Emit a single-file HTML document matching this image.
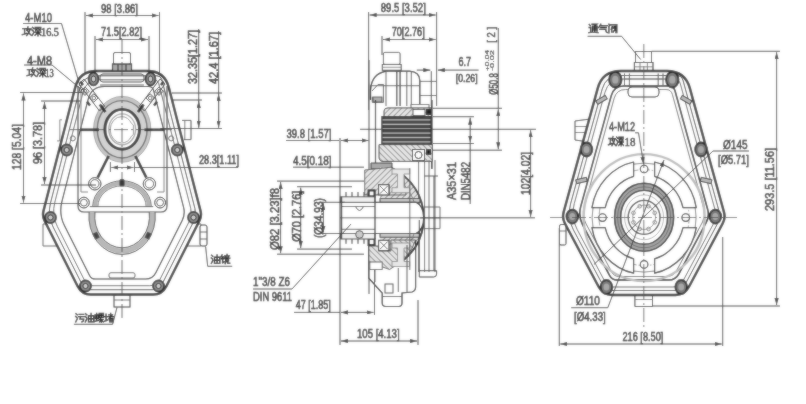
<!DOCTYPE html>
<html><head><meta charset="utf-8">
<style>
html,body{margin:0;padding:0;background:#fff;}
svg{display:block;}
text{font-family:"Liberation Sans",sans-serif;fill:#222;font-weight:normal;stroke:#222;stroke-width:0.45px;}
</style></head><body>
<svg width="806" height="404" viewBox="0 0 806 404">
<defs>
<marker id="ar" viewBox="0 0 10 6" refX="10" refY="3" markerWidth="7" markerHeight="4.2" orient="auto-start-reverse" markerUnits="userSpaceOnUse"><path d="M0,0 L10,3 L0,6 z" fill="#333"/></marker>
<filter id="soft" filterUnits="userSpaceOnUse" x="0" y="0" width="806" height="404"><feGaussianBlur in="SourceGraphic" stdDeviation="0.8" result="b"/><feComposite in="b" in2="SourceGraphic" operator="arithmetic" k1="0" k2="0.5" k3="0.5" k4="0"/></filter>
</defs>
<g filter="url(#soft)">
<rect width="806" height="404" fill="#fff"/>

<g id="leftdraw" fill="none" stroke="#2b2b2b">
<path d="M56,224 L43,224 L43,246 L62,246" stroke="#4e4e4e" stroke-width="0.9"/>
<path d="M188,224 L201,224 L201,246 L182,246" stroke="#4e4e4e" stroke-width="0.9"/>
<rect x="200" y="225" width="7" height="21" rx="2" fill="#fff" stroke="#2c2c2c" stroke-width="1"/>
<line x1="200" y1="232" x2="207" y2="232" stroke="#3d3d3d" stroke-width="0.8"/><line x1="200" y1="239" x2="207" y2="239" stroke="#3d3d3d" stroke-width="0.8"/>
<rect x="114" y="295" width="16" height="12" fill="#fff" stroke="#2c2c2c" stroke-width="1"/>
<line x1="114" y1="300" x2="130" y2="300" stroke="#4e4e4e" stroke-width="0.8"/>
<path d="M96.4,71 L147.6,71 Q164.6,71 168.82,87.47 L200.56,211.16 Q201.8,216 199.55,220.46 L166.25,286.46 Q162.2,294.5 153.2,294.5 L90.8,294.5 Q81.8,294.5 77.75,286.46 L44.45,220.46 Q42.2,216 43.44,211.16 L75.18,87.47 Q79.4,71 96.4,71 Z" stroke-width="2.4" fill="#fff"/>
<path d="M79.89,88.39 L50.53,202.85 Q47.3,215.45 53.15,227.05 L82.95,286.13 Q84.75,289.7 88.75,289.7 L152.25,289.7 Q159.25,289.7 162.4,283.45 L193.55,221.7 Q196.7,215.45 194.96,208.67 L161.87,79.67 Q160.88,75.8 156.88,75.8 L96.12,75.8 Q83.12,75.8 79.89,88.39 Z" stroke-width="1.0" stroke="#3d3d3d"/>
<path d="M83,92.39 L54.78,202.39 Q51.55,214.99 57.4,226.59 L85.42,282.13 Q87.22,285.7 91.22,285.7 L149.78,285.7 Q156.78,285.7 159.94,279.45 L189.3,221.24 Q192.45,214.99 190.72,208.21 L158.77,83.67 Q157.77,79.8 153.77,79.8 L99.23,79.8 Q86.23,79.8 83,92.39 Z" stroke-width="0.9" stroke="#4e4e4e"/>
<path d="M88.19,99.09 L61.89,201.62 Q58.66,214.21 64.52,225.82 L89.54,275.43 Q91.34,279 95.34,279 L145.66,279 Q152.66,279 155.81,272.75 L182.19,220.46 Q185.34,214.21 183.6,207.43 L153.57,90.37 Q152.57,86.5 148.57,86.5 L104.43,86.5 Q91.43,86.5 88.19,99.09 Z" stroke-width="1.1" stroke="#2c2c2c"/>
<path d="M182,120.4 L191,120.4 L191,139.6 L184,139.6" stroke="#3d3d3d" stroke-width="1"/>
<line x1="184.8" y1="120.4" x2="184.8" y2="139.6" stroke="#5f5f5f" stroke-width="0.9"/>
<path d="M62,119.8 L59.8,119.8 L59.8,140.9 L57,140.9" stroke="#707070" stroke-width="0.9"/>
<circle cx="171.2" cy="138.4" r="2.5" stroke="#4e4e4e" stroke-width="0.9"/>
<circle cx="72.8" cy="138.4" r="2.5" stroke="#4e4e4e" stroke-width="0.9"/>
<rect x="113.5" y="52.5" width="17" height="12" rx="1.5" fill="#fff" stroke="#2c2c2c" stroke-width="1"/>
<rect x="112.5" y="64" width="19" height="7" fill="#aaa" stroke="#222" stroke-width="1.2"/>
<line x1="118" y1="64" x2="118" y2="71" stroke="#222"/><line x1="126" y1="64" x2="126" y2="71" stroke="#222"/>
<rect x="100" y="74" width="44" height="8" rx="3" stroke="#3d3d3d" stroke-width="0.9"/>
<line x1="100" y1="85" x2="144" y2="85" stroke="#4e4e4e" stroke-width="0.9"/>
<path d="M78,86 L78,206 Q78,212 84,212 L161,212 Q167,212 167,206 L167,86" stroke="#3d3d3d" stroke-width="1.1"/>
<path d="M81,90 L81,192 L88,192 M164,90 L164,192 L157,192" stroke="#707070" stroke-width="0.9"/>
<ellipse cx="122.2" cy="129.3" rx="26.8" ry="30.82" stroke="#c6c6c6" stroke-width="3.6" fill="none"/>
<ellipse cx="122.2" cy="129.3" rx="28.6" ry="32.89" stroke="#9a9a9a" stroke-width="0.9" fill="none"/>
<ellipse cx="122.2" cy="129.3" rx="21.6" ry="24.84" stroke="#d2d2d2" stroke-width="6.4" fill="none"/>
<ellipse cx="122.2" cy="129.3" rx="24.9" ry="28.63" stroke="#6d6d6d" stroke-width="1.4" fill="none"/>
<ellipse cx="122.2" cy="129.3" rx="17.3" ry="19.89" stroke="#303030" stroke-width="2.9" fill="#fff"/>
<ellipse cx="122.2" cy="129.3" rx="13.4" ry="15.41" stroke="#aaa" stroke-width="1.4" fill="none"/>
<path d="M110.2,129.8 A11.5,13.2 0 0 1 121.7,116.6 A11.5,13.2 0 0 1 131.5,123.5 L133.4,125 L133.4,134.6 L131.5,136.1 A11.5,13.2 0 0 1 121.7,143 A11.5,13.2 0 0 1 110.2,129.8" stroke="#9a9a9a" stroke-width="1"/>
<g stroke="#1b1b1b" stroke-width="2.6">
<line x1="80" y1="129.8" x2="99" y2="129.8"/><line x1="144.5" y1="129.8" x2="164.5" y2="129.8"/>
<line x1="99.8" y1="104.5" x2="105.4" y2="112"/><line x1="143.6" y1="104.5" x2="138" y2="112"/>
<line x1="108.6" y1="156" x2="97.7" y2="177.5"/><line x1="135.4" y1="156" x2="146.3" y2="177.5"/>
</g>
<circle cx="94.8" cy="183.8" r="6.2" fill="none" stroke="#2c2c2c" stroke-width="1"/>
<circle cx="94.8" cy="183.8" r="4.2" fill="none" stroke="#3d3d3d" stroke-width="0.8"/>
<circle cx="149.4" cy="183.8" r="6.2" fill="none" stroke="#2c2c2c" stroke-width="1"/>
<circle cx="149.4" cy="183.8" r="4.2" fill="none" stroke="#3d3d3d" stroke-width="0.8"/>
<circle cx="83.9" cy="202.6" r="5.4" fill="none" stroke="#2c2c2c" stroke-width="1"/>
<circle cx="83.9" cy="202.6" r="3.4" fill="none" stroke="#3d3d3d" stroke-width="0.8"/>
<circle cx="160.1" cy="202.6" r="5.4" fill="none" stroke="#2c2c2c" stroke-width="1"/>
<circle cx="160.1" cy="202.6" r="3.4" fill="none" stroke="#3d3d3d" stroke-width="0.8"/>
<path d="M79,84 L84,79 L104.5,106 L99.5,111 Z" stroke="#3d3d3d" stroke-width="1" fill="none"/>
<rect x="82" y="88.2" width="6" height="6" stroke="#3d3d3d" stroke-width="0.9" transform="rotate(45 85 91.2)"/>
<circle cx="85" cy="91.2" r="1.8" stroke="#4e4e4e" stroke-width="0.8"/>
<rect x="90.8" y="95" width="6" height="6" stroke="#3d3d3d" stroke-width="0.9" transform="rotate(45 93.8 98)"/>
<circle cx="93.8" cy="98" r="1.8" stroke="#4e4e4e" stroke-width="0.8"/>
<line x1="80.5" y1="81.5" x2="83" y2="85" stroke="#1b1b1b" stroke-width="2.2"/>
<line x1="87" y1="101.5" x2="90" y2="105.5" stroke="#1b1b1b" stroke-width="2.2"/>
<path d="M165,84 L160,79 L139.5,106 L144.5,111 Z" stroke="#3d3d3d" stroke-width="1" fill="none"/>
<rect x="156" y="88.2" width="6" height="6" stroke="#3d3d3d" stroke-width="0.9" transform="rotate(45 159 91.2)"/>
<circle cx="159" cy="91.2" r="1.8" stroke="#4e4e4e" stroke-width="0.8"/>
<rect x="147.2" y="95" width="6" height="6" stroke="#3d3d3d" stroke-width="0.9" transform="rotate(45 150.2 98)"/>
<circle cx="150.2" cy="98" r="1.8" stroke="#4e4e4e" stroke-width="0.8"/>
<line x1="163.5" y1="81.5" x2="161" y2="85" stroke="#1b1b1b" stroke-width="2.2"/>
<line x1="157" y1="101.5" x2="154" y2="105.5" stroke="#1b1b1b" stroke-width="2.2"/>
<path d="M92.13,212 A30.2,34.73 0 1 0 152.07,212" stroke="#b8b8b8" stroke-width="5.2"/>
<path d="M89.11,212 A33.2,38.18 0 1 0 155.09,212" stroke="#4e4e4e" stroke-width="1"/>
<path d="M94.96,212 A27.4,31.509999999999994 0 1 0 149.24,212" stroke="#4e4e4e" stroke-width="1"/>
<rect x="93.5" y="232.5" width="5" height="6.5" fill="#444" stroke="none" transform="rotate(-25 96 235.6)"/>
<rect x="145.9" y="232.5" width="5" height="6.5" fill="#444" stroke="none" transform="rotate(25 148.4 235.6)"/>
<path d="M92.8,206.6 A29.2,25.8 0 0 1 151.2,206.6" stroke="#4e4e4e" stroke-width="1"/>
<path d="M97.8,206.6 A24.2,20.8 0 0 1 146.2,206.6" stroke="#5f5f5f" stroke-width="0.9"/>
<path d="M95.3,206.6 A26.7,23.3 0 0 1 148.7,206.6" stroke="#b5b5b5" stroke-width="4"/>
<rect x="119.5" y="179" width="5" height="7.5" rx="1.5" fill="#333" stroke="none"/>
<line x1="89.8" y1="206.6" x2="153.2" y2="206.6" stroke="#3d3d3d" stroke-width="1"/>
<rect x="109" y="272.7" width="26" height="5.3" rx="2" stroke="#4e4e4e" stroke-width="0.9"/>
<ellipse cx="66.7" cy="150" rx="5.6" ry="5.6" fill="#8a8a8a" stroke="#2e2e2e" stroke-width="1.6"/>
<ellipse cx="66.7" cy="150" rx="2.52" ry="2.52" fill="#ccc" stroke="#1b1b1b" stroke-width="0.8"/>
<ellipse cx="177.3" cy="150" rx="5.6" ry="5.6" fill="#8a8a8a" stroke="#2e2e2e" stroke-width="1.6"/>
<ellipse cx="177.3" cy="150" rx="2.52" ry="2.52" fill="#ccc" stroke="#1b1b1b" stroke-width="0.8"/>
<ellipse cx="50.5" cy="217.5" rx="5.6" ry="5.6" fill="#8a8a8a" stroke="#2e2e2e" stroke-width="1.6"/>
<ellipse cx="50.5" cy="217.5" rx="2.52" ry="2.52" fill="#ccc" stroke="#1b1b1b" stroke-width="0.8"/>
<ellipse cx="193.5" cy="217.5" rx="5.6" ry="5.6" fill="#8a8a8a" stroke="#2e2e2e" stroke-width="1.6"/>
<ellipse cx="193.5" cy="217.5" rx="2.52" ry="2.52" fill="#ccc" stroke="#1b1b1b" stroke-width="0.8"/>
<ellipse cx="85.5" cy="286" rx="5.6" ry="5.6" fill="#8a8a8a" stroke="#2e2e2e" stroke-width="1.6"/>
<ellipse cx="85.5" cy="286" rx="2.52" ry="2.52" fill="#ccc" stroke="#1b1b1b" stroke-width="0.8"/>
<ellipse cx="158.5" cy="286" rx="5.6" ry="5.6" fill="#8a8a8a" stroke="#2e2e2e" stroke-width="1.6"/>
<ellipse cx="158.5" cy="286" rx="2.52" ry="2.52" fill="#ccc" stroke="#1b1b1b" stroke-width="0.8"/>
<ellipse cx="93.5" cy="79" rx="5" ry="6.5" fill="#8a8a8a" stroke="#2e2e2e" stroke-width="1.6"/>
<ellipse cx="93.5" cy="79" rx="2.25" ry="2.93" fill="#ccc" stroke="#1b1b1b" stroke-width="0.8"/>
<ellipse cx="150.5" cy="79" rx="5" ry="6.5" fill="#8a8a8a" stroke="#2e2e2e" stroke-width="1.6"/>
<ellipse cx="150.5" cy="79" rx="2.25" ry="2.93" fill="#ccc" stroke="#1b1b1b" stroke-width="0.8"/>
<line x1="122" y1="40" x2="122" y2="318" stroke="#3d3d3d" stroke-width="0.8" stroke-dasharray="14 3 2 3"/>
<line x1="70" y1="129.6" x2="175" y2="129.6" stroke="#3d3d3d" stroke-width="0.8" stroke-dasharray="14 3 2 3"/>
<path d="M23,23.5 L61.5,23.5 L80,86" stroke="#2c2c2c" stroke-width="0.9"/>
<path d="M24,65 L52,65 L82,90" stroke="#2c2c2c" stroke-width="0.9"/>
<path d="M73.9,324.3 L112.6,324.3 L117,307.4" stroke="#2c2c2c" stroke-width="0.9"/>
<path d="M205.6,246.5 L207.7,266.3 L232.2,266.3" stroke="#2c2c2c" stroke-width="0.9"/>
</g>
<defs>
<pattern id="h1" patternUnits="userSpaceOnUse" width="4" height="4" patternTransform="rotate(45)"><rect width="4" height="4" fill="#e6e6e6"/><line x1="0" y1="0" x2="0" y2="4" stroke="#525252" stroke-width="1.1"/></pattern>
<pattern id="h2" patternUnits="userSpaceOnUse" width="4" height="4" patternTransform="rotate(-45)"><rect width="4" height="4" fill="#e6e6e6"/><line x1="0" y1="0" x2="0" y2="4" stroke="#525252" stroke-width="1.1"/></pattern>
</defs>
<g id="middraw" fill="none" stroke="#1b1b1b" stroke-width="1">
<rect x="383.4" y="52.4" width="16.7" height="12" rx="1.5" fill="#fff" stroke="#4e4e4e" stroke-width="1"/>
<rect x="382.3" y="64.5" width="18.9" height="5.8" fill="#fff" stroke="#3d3d3d" stroke-width="1"/>
<line x1="382.3" y1="67.3" x2="401.2" y2="67.3" stroke="#707070" stroke-width="0.8"/>
<path d="M370.5,100 L370.5,90 Q371.5,74 386,71.2 L409.5,71.2 Q419.8,72 419.8,80.6 L419.8,104" stroke="#222222" stroke-width="1.3"/>
<path d="M372,91 L378,84.5 L383.4,84.5 L383.4,102.4 L372.3,102.4 L372.3,96.8" stroke="#3d3d3d" stroke-width="0.9"/>
<rect x="373" y="97" width="9" height="5" fill="#b0b0b0" stroke="#3d3d3d" stroke-width="0.8"/>
<line x1="386" y1="71.5" x2="386" y2="106" stroke="#4e4e4e" stroke-width="0.9"/>
<line x1="396.8" y1="71.5" x2="396.8" y2="106" stroke="#1b1b1b" stroke-width="1.1"/>
<line x1="400.1" y1="71.5" x2="400.1" y2="106" stroke="#1b1b1b" stroke-width="1.1"/>
<line x1="406.8" y1="71.5" x2="406.8" y2="106" stroke="#3d3d3d" stroke-width="0.9"/>
<line x1="411.3" y1="71.5" x2="411.3" y2="106" stroke="#3d3d3d" stroke-width="0.9"/>
<line x1="370.5" y1="85.7" x2="420" y2="85.7" stroke="#4e4e4e" stroke-width="0.9"/>
<line x1="419.8" y1="81.4" x2="436.5" y2="81.4" stroke="#4e4e4e" stroke-width="0.9"/>
<line x1="419.8" y1="95.5" x2="436.5" y2="95.5" stroke="#4e4e4e" stroke-width="0.9"/>
<line x1="431.3" y1="71.2" x2="431.3" y2="106" stroke="#3d3d3d" stroke-width="1"/>
<rect x="411" y="104.6" width="18" height="4.5" fill="#fff" stroke="#3d3d3d" stroke-width="0.8"/>
<line x1="375.5" y1="100" x2="375.5" y2="165" stroke="#2c2c2c" stroke-width="1.2"/>
<line x1="369" y1="60" x2="369" y2="294" stroke="#2c2c2c" stroke-width="0.9"/>
<line x1="431.8" y1="100" x2="431.8" y2="169" stroke="#1b1b1b" stroke-width="1.5"/>
<path d="M384,116.8 L384,111 Q384,107.9 388,107.9 L431.3,107.9 L431.3,116.8 Z" fill="url(#h1)" stroke="#2c2c2c" stroke-width="0.9"/>
<rect x="381.8" y="116.5" width="49.5" height="28.5" fill="#3c3c3c" stroke="#222" stroke-width="1"/>
<rect x="382.5" y="119.2" width="48" height="1.4" fill="#b8b8b8" stroke="none"/>
<rect x="382.5" y="123.6" width="48" height="1.4" fill="#b8b8b8" stroke="none"/>
<rect x="382.5" y="128" width="48" height="1.4" fill="#b8b8b8" stroke="none"/>
<rect x="382.5" y="132.4" width="48" height="1.4" fill="#b8b8b8" stroke="none"/>
<rect x="382.5" y="136.8" width="48" height="1.4" fill="#b8b8b8" stroke="none"/>
<rect x="382.5" y="141.2" width="48" height="1.4" fill="#b8b8b8" stroke="none"/>
<path d="M379,144.6 L432.3,144.6 L432.3,161.4 L383,161.4 Q379,161.4 379,157 Z" fill="url(#h2)" stroke="#2c2c2c" stroke-width="0.9"/>
<rect x="412.5" y="149.5" width="12" height="11" fill="#fff" stroke="#1b1b1b"/>
<circle cx="418.5" cy="155" r="3.5" stroke="#1b1b1b"/>
<rect x="426" y="149" width="5" height="6" fill="#222" stroke="none"/>
<rect x="426" y="109" width="5" height="6" fill="#222" stroke="none"/>
<rect x="413" y="109.5" width="12" height="6" fill="#fff" stroke="#2c2c2c" stroke-width="0.8"/>
<path d="M371,163 L392,163 L392,169 L371,169 Z" fill="#aaa" stroke="#2c2c2c" stroke-width="0.9"/>
<path d="M390.7,167.3 C412,178 423.7,196 423.7,217.8 C423.7,240 412,257 394,266 L380,268 L380,167.3 Z" fill="url(#h1)" stroke="none"/>
<line x1="418.6" y1="160" x2="418.6" y2="272" stroke="#4e4e4e" stroke-width="0.9"/>
<line x1="424.6" y1="160" x2="424.6" y2="272" stroke="#4e4e4e" stroke-width="0.9"/>
<line x1="429" y1="160" x2="429" y2="272" stroke="#4e4e4e" stroke-width="0.9"/>
<line x1="435" y1="160" x2="435" y2="272" stroke="#4e4e4e" stroke-width="0.9"/>
<path d="M390.7,167.3 C412,178 423.7,196 423.7,217.8 C423.7,240 412,257 394,266" stroke="#262626" stroke-width="1.8"/>
<rect x="380" y="198.6" width="40" height="3.7" fill="#ccc" stroke="#2c2c2c" stroke-width="0.9"/>
<rect x="380" y="233.5" width="40" height="3.7" fill="#ccc" stroke="#2c2c2c" stroke-width="0.9"/>
<path d="M392,175 C408,185 416.5,200 416.5,217.8 C416.5,236 408,250 394,259" stroke="#707070" stroke-width="0.9"/>
<path d="M364.7,170 L390.7,167.3 Q400,171 404,180 L406,195 L389,195 L389,184.7 L378.6,184.7 L378.6,195 L364.7,195 Z" fill="url(#h1)" stroke="#3d3d3d" stroke-width="0.8"/>
<path d="M368.6,246 L378.6,246 L378.6,251 L390.9,251 L390.9,240 L415.6,240 Q410,258 389.6,269.5 L368.6,262 Z" fill="url(#h2)" stroke="#3d3d3d" stroke-width="0.8"/>
<rect x="378.6" y="184.7" width="10.4" height="10.3" fill="#fff" stroke="#1b1b1b"/>
<rect x="378.6" y="240.3" width="10.4" height="10.3" fill="#fff" stroke="#1b1b1b"/>
<line x1="380" y1="186" x2="387.6" y2="193.6" stroke="#3d3d3d" stroke-width="0.8"/><line x1="387.6" y1="186" x2="380" y2="193.6" stroke="#3d3d3d" stroke-width="0.8"/>
<line x1="380" y1="241.6" x2="387.6" y2="249.2" stroke="#3d3d3d" stroke-width="0.8"/><line x1="387.6" y1="241.6" x2="380" y2="249.2" stroke="#3d3d3d" stroke-width="0.8"/>
<rect x="368.6" y="190.4" width="6" height="6" fill="#fff" stroke="#111" stroke-width="2"/>
<rect x="368.6" y="239" width="6" height="6" fill="#fff" stroke="#111" stroke-width="2"/>
<path d="M392,169 L409.7,169 L409.7,174 L404,174 L404,187.7 L409.7,187.7 L409.7,192.7 L392,192.7 L392,187.7 L397.5,187.7 L397.5,174 L392,174 Z" fill="#e8e8e8" stroke="#818181" stroke-width="0.8"/>
<path d="M392,243 L409.7,243 L409.7,248 L404,248 L404,261.5 L409.7,261.5 L409.7,266.5 L392,266.5 L392,261.5 L397.5,261.5 L397.5,248 L392,248 Z" fill="#e8e8e8" stroke="#818181" stroke-width="0.8"/>
<path d="M340.4,202.3 L416,202.3 Q423.7,206 423.7,217.8 Q423.7,229.6 416,233.5 L340.4,233.5" stroke="#1b1b1b" stroke-width="1.2" fill="#fff"/>
<rect x="340.4" y="196.8" width="34.6" height="5.5" fill="#f2f2f2" stroke="#3d3d3d" stroke-width="0.9"/>
<rect x="340.4" y="233.5" width="34.6" height="5.5" fill="#f2f2f2" stroke="#3d3d3d" stroke-width="0.9"/>
<line x1="342" y1="206.5" x2="375" y2="206.5" stroke="#4e4e4e" stroke-width="0.9"/>
<line x1="342" y1="229.3" x2="375" y2="229.3" stroke="#4e4e4e" stroke-width="0.9"/>
<line x1="375" y1="196.8" x2="375" y2="239" stroke="#1b1b1b" stroke-width="1.1"/>
<line x1="341.5" y1="196.8" x2="341.5" y2="239" stroke="#3d3d3d" stroke-width="1.4"/>
<path d="M355.5,206.5 Q359.5,214.5 363.5,206.5" stroke="#3d3d3d" stroke-width="0.9"/>
<circle cx="359.5" cy="234.5" r="3.8" fill="#ccc" stroke="#3d3d3d" stroke-width="0.9"/>
<line x1="340" y1="217.8" x2="440" y2="217.8" stroke="#3d3d3d" stroke-width="0.8"/>
<path d="M423.7,207 L440,207 L440,228.6 L423.7,228.6" stroke="#4e4e4e" stroke-width="0.9"/>
<line x1="409.8" y1="168" x2="409.8" y2="270" stroke="#4e4e4e" stroke-width="0.9"/>
<line x1="346" y1="192" x2="346" y2="196.8" stroke="#2c2c2c" stroke-width="1"/>
<line x1="346" y1="239" x2="346" y2="243.8" stroke="#2c2c2c" stroke-width="1"/>
<line x1="352" y1="192" x2="352" y2="196.8" stroke="#2c2c2c" stroke-width="1"/>
<line x1="352" y1="239" x2="352" y2="243.8" stroke="#2c2c2c" stroke-width="1"/>
<line x1="358" y1="192" x2="358" y2="196.8" stroke="#2c2c2c" stroke-width="1"/>
<line x1="358" y1="239" x2="358" y2="243.8" stroke="#2c2c2c" stroke-width="1"/>
<line x1="364" y1="192" x2="364" y2="196.8" stroke="#2c2c2c" stroke-width="1"/>
<line x1="364" y1="239" x2="364" y2="243.8" stroke="#2c2c2c" stroke-width="1"/>
<path d="M368.6,246 L368.6,278 L382.2,293 L382.2,303 Q382.2,306.5 386,306.5 L398.5,306.5 Q402,306.5 402,303 L402,293 L412,292 Q415.6,291 415.6,287 L415.6,240" stroke="#1b1b1b" stroke-width="1.2"/>
<line x1="382.2" y1="296.5" x2="402" y2="296.5" stroke="#3d3d3d" stroke-width="0.9"/>
<rect x="385" y="284" width="8" height="9" fill="#fff" stroke="#3d3d3d" stroke-width="0.9"/>
<line x1="398.3" y1="268" x2="398.3" y2="292" stroke="#3d3d3d" stroke-width="0.9"/>
<line x1="407" y1="245" x2="407" y2="292" stroke="#3d3d3d" stroke-width="0.9"/>
<rect x="369.8" y="262" width="12.4" height="7.5" fill="#fff" stroke="#4e4e4e" stroke-width="0.9"/>
<line x1="375" y1="269.5" x2="375" y2="282" stroke="#4e4e4e" stroke-width="0.9"/>
<path d="M419.3,220 L419.3,277 M419.3,270.7 L436.6,270.7 L436.6,274 Q436.6,277 433.6,277 L419.3,277" stroke="#2c2c2c" stroke-width="1"/>
<line x1="434" y1="176" x2="434" y2="270.7" stroke="#3d3d3d" stroke-width="1"/>
<line x1="424" y1="176" x2="438" y2="176" stroke="#3d3d3d" stroke-width="0.9"/>
</g>
<g id="rightdraw" fill="none" stroke="#2b2b2b">
<path d="M590,119 L575,121 L575,140 L585.5,141.5" fill="#fff" stroke="#3d3d3d" stroke-width="1"/>
<line x1="575" y1="126.5" x2="588" y2="126.5" stroke="#4e4e4e" stroke-width="0.8"/><line x1="575" y1="132.5" x2="586.5" y2="132.5" stroke="#4e4e4e" stroke-width="0.8"/>
<rect x="559.5" y="224.5" width="6.5" height="20.5" rx="1.5" fill="#fff" stroke="#2c2c2c" stroke-width="1"/>
<line x1="559.5" y1="231" x2="566" y2="231" stroke="#4e4e4e" stroke-width="0.8"/>
<path d="M634.9,296 L634.9,306.5 L652.5,306.5 L652.5,296 L646,290.5 L641.5,290.5 Z" fill="#fff" stroke="#2c2c2c" stroke-width="1"/>
<line x1="634.9" y1="299.5" x2="652.5" y2="299.5" stroke="#5f5f5f" stroke-width="0.8"/>
<rect x="635.5" y="51.5" width="16" height="11" fill="#fff" stroke="#3d3d3d" stroke-width="1"/>
<path d="M634.4,62.5 L653,62.5 L653,71 L634.4,71 Z" fill="#fff" stroke="#2c2c2c" stroke-width="1.1"/>
<line x1="634.4" y1="66.8" x2="653" y2="66.8" stroke="#5f5f5f" stroke-width="0.8"/><line x1="640" y1="62.5" x2="640" y2="71" stroke="#5f5f5f" stroke-width="0.8"/><line x1="647.4" y1="62.5" x2="647.4" y2="71" stroke="#5f5f5f" stroke-width="0.8"/>
<path d="M635,71.5 L644,77.8 L653,71.5" stroke="#3d3d3d" stroke-width="0.9"/>
<path d="M620.5,71 L667.1,71 Q685.1,71 689.88,88.35 L724.01,212.22 Q725.6,218 722.78,223.3 L688.83,287.06 Q684.6,295 675.6,295 L612,295 Q603,295 598.77,287.06 L564.82,223.3 Q562,218 563.59,212.22 L597.72,88.35 Q602.5,71 620.5,71 Z" stroke-width="2.4" fill="#fff"/>
<path d="M602.21,89 L570.53,203.97 Q566.81,217.47 573.39,229.82 L603.35,286.09 Q605.7,290.5 610.7,290.5 L674.9,290.5 Q681.9,290.5 685.19,284.32 L717.5,223.65 Q720.79,217.47 718.93,210.72 L683,80.32 Q681.67,75.5 676.67,75.5 L619.93,75.5 Q605.93,75.5 602.21,89 Z" stroke-width="1.0" stroke="#3d3d3d"/>
<path d="M604.88,92.5 L574.28,203.56 Q570.56,217.05 577.14,229.41 L605.45,282.59 Q607.8,287 612.8,287 L672.8,287 Q679.8,287 683.09,280.82 L713.75,223.23 Q717.04,217.05 715.18,210.3 L680.33,83.82 Q679.01,79 674.01,79 L622.59,79 Q608.59,79 604.88,92.5 Z" stroke-width="0.9" stroke="#4e4e4e"/>
<path d="M611.27,95.64 L580.7,206.58 Q578.05,216.22 582.75,225.05 L609.66,275.59 Q612.01,280 617.01,280 L668.59,280 Q675.59,280 678.88,273.82 L706.26,222.4 Q709.55,216.22 707.69,209.48 L675,90.82 Q673.67,86 668.67,86 L623.93,86 Q613.93,86 611.27,95.64 Z" stroke-width="1.5" stroke="#1b1b1b"/>
<path d="M614.2,98.18 L584.18,207.13 Q581.79,215.81 586.02,223.75 L611.76,272.09 Q614.11,276.5 619.11,276.5 L666.49,276.5 Q673.49,276.5 676.78,270.32 L702.52,221.99 Q705.81,215.81 703.95,209.06 L672.34,94.32 Q671.01,89.5 666.01,89.5 L625.59,89.5 Q616.59,89.5 614.2,98.18 Z" stroke-width="0.9" stroke="#5f5f5f"/>
<rect x="628" y="87" width="31" height="10" rx="4" fill="#fff" stroke="#2c2c2c" stroke-width="1"/>
<line x1="624.5" y1="73.5" x2="624.5" y2="85" stroke="#3d3d3d" stroke-width="0.9"/>
<line x1="629.4" y1="73.5" x2="629.4" y2="85" stroke="#3d3d3d" stroke-width="0.9"/>
<line x1="658.2" y1="73.5" x2="658.2" y2="85" stroke="#3d3d3d" stroke-width="0.9"/>
<line x1="663" y1="73.5" x2="663" y2="85" stroke="#3d3d3d" stroke-width="0.9"/>
<line x1="624.5" y1="79" x2="663" y2="79" stroke="#5f5f5f" stroke-width="0.8"/>
<ellipse cx="644.1" cy="217.6" rx="60.5" ry="63.5" stroke="#bdbdbd" stroke-width="2.4"/>
<ellipse cx="644.1" cy="217.6" rx="52" ry="54.5" stroke="#707070" stroke-width="0.9"/>
<ellipse cx="644.1" cy="217.6" rx="45" ry="48" stroke="#818181" stroke-width="0.8" stroke-dasharray="6 2 1.5 2"/>
<path d="M633.6,162.01 A53,56.71 0 0 0 591.93,207.6 L605.21,207.6 A40,42.8 0 0 1 633.6,176.3 Z" stroke="#272727" stroke-width="1.2" fill="#fff" stroke-linejoin="round"/>
<path d="M633.6,273.19 A53,56.71 0 0 1 591.93,227.6 L605.21,227.6 A40,42.8 0 0 0 633.6,258.9 Z" stroke="#272727" stroke-width="1.2" fill="#fff" stroke-linejoin="round"/>
<path d="M654.6,162.01 A53,56.71 0 0 1 696.27,207.6 L682.99,207.6 A40,42.8 0 0 0 654.6,176.3 Z" stroke="#272727" stroke-width="1.2" fill="#fff" stroke-linejoin="round"/>
<path d="M654.6,273.19 A53,56.71 0 0 0 696.27,227.6 L682.99,227.6 A40,42.8 0 0 1 654.6,258.9 Z" stroke="#272727" stroke-width="1.2" fill="#fff" stroke-linejoin="round"/>
<circle cx="644.1" cy="169" r="3.8" stroke="#2c2c2c" stroke-width="1.1" fill="#fff"/>
<circle cx="602.5" cy="217.6" r="3.8" stroke="#2c2c2c" stroke-width="1.1" fill="#fff"/>
<circle cx="685.7" cy="217.6" r="3.8" stroke="#2c2c2c" stroke-width="1.1" fill="#fff"/>
<circle cx="644.1" cy="264.4" r="3.8" stroke="#2c2c2c" stroke-width="1.1" fill="#fff"/>
<ellipse cx="644.1" cy="217.3" rx="26.5" ry="30.47" stroke="#a4a4a4" stroke-width="6.3" fill="none"/>
<ellipse cx="644.1" cy="217.3" rx="23.4" ry="26.91" stroke="#222222" stroke-width="1.3" fill="none"/>
<ellipse cx="644.1" cy="217.3" rx="29.6" ry="34.04" stroke="#222222" stroke-width="1.4" fill="none"/>
<ellipse cx="644.1" cy="217.3" rx="26.5" ry="30.47" stroke="#626262" stroke-width="0.8" fill="none"/>
<ellipse cx="644.1" cy="217.3" rx="19.5" ry="22.42" stroke="#aaa" stroke-width="0.9" fill="none"/>
<ellipse cx="644.1" cy="217.3" rx="15.9" ry="17.01" stroke="#3d3d3d" stroke-width="1.3" fill="#fff"/>
<circle cx="654.72" cy="222.31" r="1.8" stroke="#707070" stroke-width="0.8"/>
<circle cx="648.5" cy="228.96" r="1.8" stroke="#707070" stroke-width="0.8"/>
<circle cx="639.7" cy="228.96" r="1.8" stroke="#707070" stroke-width="0.8"/>
<circle cx="633.48" cy="222.31" r="1.8" stroke="#707070" stroke-width="0.8"/>
<circle cx="633.48" cy="212.89" r="1.8" stroke="#707070" stroke-width="0.8"/>
<circle cx="639.7" cy="206.24" r="1.8" stroke="#707070" stroke-width="0.8"/>
<circle cx="648.5" cy="206.24" r="1.8" stroke="#707070" stroke-width="0.8"/>
<circle cx="654.72" cy="212.89" r="1.8" stroke="#707070" stroke-width="0.8"/>
<ellipse cx="644.1" cy="217.3" rx="11.5" ry="12.31" stroke="#818181" stroke-width="0.8" fill="none"/>
<rect x="576" y="178.5" width="11" height="4" fill="#bbb" stroke="#2c2c2c" stroke-width="0.9" transform="rotate(-13 581.5 180.5)"/>
<rect x="700.6" y="178.5" width="11" height="4" fill="#bbb" stroke="#2c2c2c" stroke-width="0.9" transform="rotate(13 706.1 180.5)"/>
<rect x="596" y="97.8" width="11" height="4" fill="#bbb" stroke="#2c2c2c" stroke-width="0.9" transform="rotate(-30 601.5 99.8)"/>
<rect x="680.6" y="97.8" width="11" height="4" fill="#bbb" stroke="#2c2c2c" stroke-width="0.9" transform="rotate(30 686.1 99.8)"/>
<ellipse cx="586.5" cy="149.5" rx="5.8" ry="7" fill="#7a7a7a" stroke="#262626" stroke-width="1.8"/>
<ellipse cx="586.5" cy="149.5" rx="2.9" ry="3.5" fill="#a8a8a8" stroke="none"/>
<ellipse cx="701" cy="149.5" rx="5.8" ry="7" fill="#7a7a7a" stroke="#262626" stroke-width="1.8"/>
<ellipse cx="701" cy="149.5" rx="2.9" ry="3.5" fill="#a8a8a8" stroke="none"/>
<ellipse cx="572.3" cy="216.6" rx="5.8" ry="7" fill="#7a7a7a" stroke="#262626" stroke-width="1.8"/>
<ellipse cx="572.3" cy="216.6" rx="2.9" ry="3.5" fill="#a8a8a8" stroke="none"/>
<ellipse cx="715.3" cy="216.6" rx="5.8" ry="7" fill="#7a7a7a" stroke="#262626" stroke-width="1.8"/>
<ellipse cx="715.3" cy="216.6" rx="2.9" ry="3.5" fill="#a8a8a8" stroke="none"/>
<ellipse cx="606.4" cy="287" rx="5.8" ry="7" fill="#7a7a7a" stroke="#262626" stroke-width="1.8"/>
<ellipse cx="606.4" cy="287" rx="2.9" ry="3.5" fill="#a8a8a8" stroke="none"/>
<ellipse cx="681.2" cy="287" rx="5.8" ry="7" fill="#7a7a7a" stroke="#262626" stroke-width="1.8"/>
<ellipse cx="681.2" cy="287" rx="2.9" ry="3.5" fill="#a8a8a8" stroke="none"/>
<ellipse cx="615.3" cy="79.7" rx="6.2" ry="7.8" fill="#7a7a7a" stroke="#262626" stroke-width="1.8"/>
<ellipse cx="615.3" cy="79.7" rx="3.1" ry="3.9" fill="#a8a8a8" stroke="none"/>
<ellipse cx="672.3" cy="79.7" rx="6.2" ry="7.8" fill="#7a7a7a" stroke="#262626" stroke-width="1.8"/>
<ellipse cx="672.3" cy="79.7" rx="3.1" ry="3.9" fill="#a8a8a8" stroke="none"/>
<line x1="643.8" y1="44" x2="643.8" y2="328" stroke="#4e4e4e" stroke-width="0.8" stroke-dasharray="14 3 2 3"/>
<line x1="550" y1="217.5" x2="737" y2="217.5" stroke="#4e4e4e" stroke-width="0.8" stroke-dasharray="14 3 2 3"/>
</g>
<g id="cjk">
<path transform="translate(22.3,26.6) scale(0.92,0.92)" d="M0.5,2.2H4.5M2.5,2.2V8M0,8.8L4.8,7.4M6.2,0.3L5,4M5.5,2.6H9.6M8.6,2.6Q7.8,7 4.8,9.7M6,4.6Q7.5,8.2 9.9,9.6" fill="none" stroke="#2a2a2a" stroke-width="1.47" stroke-linecap="square"/>
<path transform="translate(31.9,26.6) scale(0.92,0.92)" d="M0.6,0.8L1.9,2M0.3,3.8L1.6,5M0.4,9.6L2,6.4M3.6,2.6V1H9.6V2.6M5.6,2.4L4.2,4.4M7.6,2.4L9,4.4M3.4,6H9.8M6.6,4.2V9.9M6.6,6.2L3.4,9.5M6.6,6.2L9.8,9.5" fill="none" stroke="#2a2a2a" stroke-width="1.47" stroke-linecap="square"/>
<text x="41" y="36.2" font-size="12" style="font-family:'Liberation Serif',serif;font-weight:normal" textLength="18" lengthAdjust="spacingAndGlyphs">16.5</text>
<path transform="translate(27,67.6) scale(0.92,0.92)" d="M0.5,2.2H4.5M2.5,2.2V8M0,8.8L4.8,7.4M6.2,0.3L5,4M5.5,2.6H9.6M8.6,2.6Q7.8,7 4.8,9.7M6,4.6Q7.5,8.2 9.9,9.6" fill="none" stroke="#2a2a2a" stroke-width="1.47" stroke-linecap="square"/>
<path transform="translate(36.6,67.6) scale(0.92,0.92)" d="M0.6,0.8L1.9,2M0.3,3.8L1.6,5M0.4,9.6L2,6.4M3.6,2.6V1H9.6V2.6M5.6,2.4L4.2,4.4M7.6,2.4L9,4.4M3.4,6H9.8M6.6,4.2V9.9M6.6,6.2L3.4,9.5M6.6,6.2L9.8,9.5" fill="none" stroke="#2a2a2a" stroke-width="1.47" stroke-linecap="square"/>
<text x="45.2" y="77.2" font-size="12" style="font-family:'Liberation Serif',serif;font-weight:normal" textLength="8.6" lengthAdjust="spacingAndGlyphs">13</text>
<path transform="translate(75.4,313) scale(0.92,0.92)" d="M0.6,0.8L1.9,2M0.3,3.8L1.6,5M0.4,9.6L2,6.4M4,1.5H9M3.4,4H9.8M5.6,4L5,6.6H9Q9,9.6 7,9.6" fill="none" stroke="#2a2a2a" stroke-width="1.47" stroke-linecap="square"/>
<path transform="translate(85,313) scale(0.92,0.92)" d="M0.6,0.8L1.9,2M0.3,3.8L1.6,5M0.4,9.6L2,6.4M6.6,0.4V9.2M3.8,3H9.6V9.6H3.8ZM3.8,6.2H9.6" fill="none" stroke="#2a2a2a" stroke-width="1.47" stroke-linecap="square"/>
<path transform="translate(94.6,313) scale(0.92,0.92)" d="M0.5,2H4V6H0.5ZM2.2,0.4V8.6M0,9.2L4.5,8M5,0.5H9.6V4.6H5ZM7.3,0.5V4.6M5,2.5H9.6M7,5L5.5,7H9.2M7.3,7V9.9M5.4,9.6L6.4,8.4M9.3,9.6L8.3,8.4" fill="none" stroke="#2a2a2a" stroke-width="1.47" stroke-linecap="square"/>
<path transform="translate(104.2,313) scale(0.92,0.92)" d="M0.4,4H3.6M2,1.4V8.6M0,9.2L4,7.6M5,2H9M7,0.4V4M4.4,4H10M8.6,2L5.4,6M6,6H9.6V9.6H6ZM6,7.8H9.6" fill="none" stroke="#2a2a2a" stroke-width="1.47" stroke-linecap="square"/>
<path transform="translate(211,254.5) scale(0.92,0.92)" d="M0.6,0.8L1.9,2M0.3,3.8L1.6,5M0.4,9.6L2,6.4M6.6,0.4V9.2M3.8,3H9.6V9.6H3.8ZM3.8,6.2H9.6" fill="none" stroke="#2a2a2a" stroke-width="1.47" stroke-linecap="square"/>
<path transform="translate(220.6,254.5) scale(0.92,0.92)" d="M1.6,0.4L0.4,2.6M1,2.6H3.6M0.8,4.6H3.6M2.2,2.6V9M2.2,9L3.9,8M7,0V1M4.5,1.5H9.6M5.6,2.2L6,3.5M8.5,2.2L8,3.5M4.2,4H10M5.5,5H8.6V7H5.5ZM6.3,7L5,9.9M7.8,7V9.5H9.9" fill="none" stroke="#2a2a2a" stroke-width="1.47" stroke-linecap="square"/>
<path transform="translate(588.8,23.8) scale(0.92,0.92)" d="M0.5,0.8L1.6,2M0.4,4H2V8M0,9.6Q4,8.4 10,9.6M3.6,0.5H8.6L6.6,2M4,2.6H9V8M4,2.6V8.6M4,4.6H9M4,6.6H9M6.5,2.6V8" fill="none" stroke="#2a2a2a" stroke-width="1.47" stroke-linecap="square"/>
<path transform="translate(598.4,23.8) scale(0.92,0.92)" d="M2.6,0.4L0.4,4M2,2H9.6M2.6,4H8.6M1.6,6H8Q8,9.6 10,9.6" fill="none" stroke="#2a2a2a" stroke-width="1.47" stroke-linecap="square"/>
<path transform="translate(608,23.8) scale(0.92,0.92)" d="M1,0.4L2,1.6M1,2.6V9.9M3,1H9.6V9.6L8.6,9.6M4.6,3L3.6,6M4.1,4.6V9M5,4.6H9M6.6,3L9,9M8.6,4.6L5.6,9M8,3L8.8,3.8" fill="none" stroke="#2a2a2a" stroke-width="1.47" stroke-linecap="square"/>
<path transform="translate(608.4,136.3) scale(0.74,0.96)" d="M0.5,2.2H4.5M2.5,2.2V8M0,8.8L4.8,7.4M6.2,0.3L5,4M5.5,2.6H9.6M8.6,2.6Q7.8,7 4.8,9.7M6,4.6Q7.5,8.2 9.9,9.6" fill="none" stroke="#2a2a2a" stroke-width="1.59" stroke-linecap="square"/>
<path transform="translate(616.2,136.3) scale(0.74,0.96)" d="M0.6,0.8L1.9,2M0.3,3.8L1.6,5M0.4,9.6L2,6.4M3.6,2.6V1H9.6V2.6M5.6,2.4L4.2,4.4M7.6,2.4L9,4.4M3.4,6H9.8M6.6,4.2V9.9M6.6,6.2L3.4,9.5M6.6,6.2L9.8,9.5" fill="none" stroke="#2a2a2a" stroke-width="1.59" stroke-linecap="square"/>
<text x="624.4" y="145.6" font-size="13" style="font-family:'Liberation Serif',serif;font-weight:normal" textLength="11" lengthAdjust="spacingAndGlyphs">18</text>
</g>
<!-- ============ LEFT VIEW ============ -->
<g id="left" fill="none" stroke="#1b1b1b" stroke-width="1">
<!-- dims -->
<g stroke="#2c2c2c" stroke-width="0.9">
<line x1="85" y1="12" x2="85" y2="74"/><line x1="159.5" y1="12" x2="159.5" y2="74"/>
<line x1="86" y1="15.5" x2="158.5" y2="15.5" marker-start="url(#ar)" marker-end="url(#ar)"/>
<line x1="95" y1="36" x2="95" y2="74"/><line x1="149" y1="36" x2="149" y2="74"/>
<line x1="96" y1="39.5" x2="148" y2="39.5" marker-start="url(#ar)" marker-end="url(#ar)"/>
<!-- 128 / 96 -->
<line x1="20" y1="92.5" x2="82" y2="92.5"/>
<line x1="23.5" y1="93.5" x2="23.5" y2="202.5" marker-start="url(#ar)" marker-end="url(#ar)"/>
<line x1="20" y1="203.5" x2="80" y2="203.5"/>
<line x1="41" y1="101" x2="80" y2="101"/>
<line x1="44.5" y1="102" x2="44.5" y2="184" marker-start="url(#ar)" marker-end="url(#ar)"/>
<line x1="41" y1="185" x2="96" y2="185"/>
<!-- 32.35 / 42.4 -->
<line x1="172" y1="93" x2="222" y2="93"/>
<line x1="172" y1="100" x2="202" y2="100"/>
<line x1="160" y1="128.5" x2="222" y2="128.5"/>
<line x1="198.7" y1="29" x2="198.7" y2="127.5" />
<line x1="198.7" y1="101" x2="198.7" y2="127.5" marker-start="url(#ar)" marker-end="url(#ar)"/>
<line x1="218.6" y1="31" x2="218.6" y2="127.5" />
<line x1="218.6" y1="94" x2="218.6" y2="127.5" marker-start="url(#ar)" marker-end="url(#ar)"/>
<!-- 28.3 -->
<line x1="111.4" y1="167.5" x2="133.5" y2="167.5" marker-start="url(#ar)" marker-end="url(#ar)"/>
<line x1="134.5" y1="167.5" x2="238" y2="167.5"/><line x1="110.4" y1="162" x2="110.4" y2="172"/><line x1="134.5" y1="162" x2="134.5" y2="172"/>
</g>
<!-- texts -->
</g>
<g id="lefttext">
<text x="101" y="12.5" font-size="12.5" textLength="37" lengthAdjust="spacingAndGlyphs">98 [3.86]</text>
<text x="101" y="35.5" font-size="12.5" textLength="41" lengthAdjust="spacingAndGlyphs">71.5[2.82]</text>
<text x="25" y="21.5" font-size="12.5" textLength="27" lengthAdjust="spacingAndGlyphs">4-M10</text>
<text x="27" y="64.5" font-size="12.5" textLength="25" lengthAdjust="spacingAndGlyphs">4-M8</text>
<text x="199" y="163.5" font-size="12.5" textLength="40" lengthAdjust="spacingAndGlyphs">28.3[1.11]</text>
<text transform="translate(21,170) rotate(-90)" font-size="12.5" textLength="46" lengthAdjust="spacingAndGlyphs">128 [5.04]</text>
<text transform="translate(42,164) rotate(-90)" font-size="12.5" textLength="42" lengthAdjust="spacingAndGlyphs">96 [3.78]</text>
<text transform="translate(197,84) rotate(-90)" font-size="12.5" textLength="54" lengthAdjust="spacingAndGlyphs">32.35[1.27]</text>
<text transform="translate(218,84) rotate(-90)" font-size="12.5" textLength="52" lengthAdjust="spacingAndGlyphs">42.4 [1.67]</text>
</g>

<!-- ============ MIDDLE VIEW ============ -->
<g id="mid" fill="none" stroke="#2c2c2c" stroke-width="0.9">
<line x1="368.6" y1="12" x2="368.6" y2="110"/><line x1="436.6" y1="12" x2="436.6" y2="106"/>
<line x1="369.6" y1="15" x2="435.6" y2="15" marker-start="url(#ar)" marker-end="url(#ar)"/>
<line x1="382" y1="36" x2="382" y2="55"/>
<line x1="383" y1="39.5" x2="435.6" y2="39.5" marker-start="url(#ar)" marker-end="url(#ar)"/>
<line x1="416.8" y1="70.1" x2="430.3" y2="70.1" marker-end="url(#ar)"/>
<line x1="437.9" y1="70.1" x2="478.6" y2="70.1" marker-start="url(#ar)"/>
<line x1="433" y1="108.3" x2="502" y2="108.3"/>
<line x1="433" y1="150.2" x2="502" y2="150.2"/>
<line x1="498.3" y1="28" x2="498.3" y2="108.3"/>
<line x1="498.3" y1="109.3" x2="498.3" y2="149.2" marker-start="url(#ar)" marker-end="url(#ar)"/>
<line x1="433" y1="116.7" x2="474" y2="116.7"/><line x1="433" y1="143.5" x2="474" y2="143.5"/>
<line x1="470.2" y1="117.7" x2="470.2" y2="142.5" marker-start="url(#ar)" marker-end="url(#ar)"/>
<line x1="470.2" y1="142.5" x2="470.2" y2="204"/>
<line x1="360" y1="129.3" x2="536" y2="129.3"/>
<line x1="530.6" y1="130.3" x2="530.6" y2="216.8" marker-start="url(#ar)" marker-end="url(#ar)"/>
<line x1="420" y1="217.8" x2="535" y2="217.8"/>
<!-- 39.8 & 4.5 -->
<line x1="286" y1="140.5" x2="339" y2="140.5"/>
<line x1="341" y1="140.5" x2="368.5" y2="140.5" marker-start="url(#ar)" marker-end="url(#ar)"/>
<line x1="340" y1="138" x2="340" y2="345"/>
<line x1="293" y1="167.2" x2="364" y2="167.2"/>
<!-- dia exts -->
<line x1="277" y1="181.1" x2="364" y2="181.1"/>
<line x1="297" y1="186.7" x2="352" y2="186.7"/>
<line x1="319" y1="202.3" x2="345" y2="202.3"/>
<line x1="277" y1="254.2" x2="364" y2="254.2"/>
<line x1="297" y1="249.1" x2="352" y2="249.1"/>
<line x1="319" y1="233.5" x2="345" y2="233.5"/>
<line x1="280.6" y1="182.1" x2="280.6" y2="253.2" marker-start="url(#ar)" marker-end="url(#ar)"/>
<line x1="300.7" y1="187.7" x2="300.7" y2="248.1" marker-start="url(#ar)" marker-end="url(#ar)"/>
<line x1="323.4" y1="203.3" x2="323.4" y2="232.5" marker-start="url(#ar)" marker-end="url(#ar)"/>
<!-- 47 / 105 -->
<line x1="294" y1="312.4" x2="340" y2="312.4"/>
<line x1="341" y1="312.4" x2="373.5" y2="312.4" marker-start="url(#ar)" marker-end="url(#ar)"/>
<line x1="374.5" y1="270" x2="374.5" y2="315"/>
<line x1="341" y1="341" x2="417" y2="341" marker-start="url(#ar)" marker-end="url(#ar)"/>
<line x1="418" y1="300" x2="418" y2="345"/>
<line x1="253" y1="289" x2="292" y2="289"/>
<line x1="292" y1="289" x2="351" y2="224"/>
</g>
<g id="midtext">
<text x="380.8" y="12.1" font-size="12.5" textLength="45" lengthAdjust="spacingAndGlyphs">89.5 [3.52]</text>
<text x="391.7" y="36.0" font-size="12.5" textLength="33" lengthAdjust="spacingAndGlyphs">70[2.76]</text>
<text x="458.4" y="66.3" font-size="12" textLength="12.6" lengthAdjust="spacingAndGlyphs">6.7</text>
<text x="455.8" y="81.5" font-size="11.5" textLength="21.8" lengthAdjust="spacingAndGlyphs">[0.26]</text>
<text x="286.4" y="138.0" font-size="12.5" textLength="45" lengthAdjust="spacingAndGlyphs">39.8 [1.57]</text>
<text x="293" y="164.5" font-size="12.5" textLength="38.5" lengthAdjust="spacingAndGlyphs">4.5[0.18]</text>
<text x="253" y="285.5" font-size="12.5" textLength="37" lengthAdjust="spacingAndGlyphs">1"3/8 Z6</text>
<text x="253" y="300.5" font-size="12.5" textLength="39" lengthAdjust="spacingAndGlyphs">DIN 9611</text>
<text x="295.7" y="309.0" font-size="12.5" textLength="35" lengthAdjust="spacingAndGlyphs">47 [1.85]</text>
<text x="357" y="337.5" font-size="12.5" textLength="42.6" lengthAdjust="spacingAndGlyphs">105 [4.13]</text>
<text transform="translate(279,250) rotate(-90)" font-size="12.5" textLength="62" lengthAdjust="spacingAndGlyphs">Ø82 [3.23]f8</text>
<text transform="translate(301,241.7) rotate(-90)" font-size="12.5" textLength="51" lengthAdjust="spacingAndGlyphs">Ø70 [2.76]</text>
<text transform="translate(323,238) rotate(-90)" font-size="12.5" textLength="40" lengthAdjust="spacingAndGlyphs">(Ø34.93)</text>
<text transform="translate(456,200) rotate(-90)" font-size="12.5" textLength="38" lengthAdjust="spacingAndGlyphs">A35×31</text>
<text transform="translate(470,200) rotate(-90)" font-size="12.5" textLength="38" lengthAdjust="spacingAndGlyphs">DIN5482</text>
<text transform="translate(530,195) rotate(-90)" font-size="12.5" textLength="43" lengthAdjust="spacingAndGlyphs">102[4.02]</text>
<text transform="translate(497.6,94.7) rotate(-90)" font-size="12.5" textLength="21.5" lengthAdjust="spacingAndGlyphs">Ø50.8</text><text transform="translate(488.5,71) rotate(-90)" font-size="6" style="stroke-width:0.15px" textLength="21" lengthAdjust="spacingAndGlyphs">+0.04</text><text transform="translate(494,71) rotate(-90)" font-size="6" style="stroke-width:0.15px" textLength="21" lengthAdjust="spacingAndGlyphs">-0.02</text>
<text transform="translate(495.4,42.7) rotate(-90)" font-size="11.5" textLength="15.7" lengthAdjust="spacingAndGlyphs">[ 2 ]</text>
</g>

<!-- ============ RIGHT VIEW ============ -->
<g id="right" fill="none" stroke="#2c2c2c" stroke-width="0.9">
<line x1="587.6" y1="36.3" x2="621.6" y2="36.3"/>
<line x1="621.6" y1="36.3" x2="640.7" y2="59.5"/>
<line x1="651.6" y1="51.3" x2="780" y2="51.3"/>
<line x1="776.6" y1="52.3" x2="776.6" y2="305" marker-start="url(#ar)" marker-end="url(#ar)"/>
<line x1="652" y1="306" x2="780" y2="306"/>
<line x1="559.3" y1="228" x2="559.3" y2="346"/>
<line x1="722.7" y1="237" x2="722.7" y2="346"/>
<line x1="560.3" y1="344" x2="721.7" y2="344" marker-start="url(#ar)" marker-end="url(#ar)"/>
<line x1="571.2" y1="307.7" x2="607.8" y2="307.7"/>
<line x1="607.8" y1="307.7" x2="664" y2="160" marker-end="url(#ar)"/>
<line x1="713" y1="151" x2="749" y2="151"/>
<line x1="713" y1="151" x2="594" y2="264.4"/>
<path d="M635.1,132.8 L638.5,132.8 L643.6,164" marker-end="url(#ar)"/>
</g>
<g id="righttext">
<text x="609" y="131.0" font-size="12.5" textLength="26" lengthAdjust="spacingAndGlyphs">4-M12</text>
<text x="723" y="148.5" font-size="12.5" textLength="24.6" lengthAdjust="spacingAndGlyphs">Ø145</text>
<text x="718" y="163.5" font-size="12.5" textLength="31" lengthAdjust="spacingAndGlyphs">[Ø5.71]</text>
<text x="576" y="304.5" font-size="12.5" textLength="24" lengthAdjust="spacingAndGlyphs">Ø110</text>
<text x="574" y="320.5" font-size="12.5" textLength="31.7" lengthAdjust="spacingAndGlyphs">[Ø4.33]</text>
<text x="622.4" y="340.5" font-size="12.5" textLength="41" lengthAdjust="spacingAndGlyphs">216 [8.50]</text>
<text transform="translate(774,211) rotate(-90)" font-size="12.5" textLength="63" lengthAdjust="spacingAndGlyphs">293.5 [11.56]</text>
</g>
</g></svg>
</body></html>
